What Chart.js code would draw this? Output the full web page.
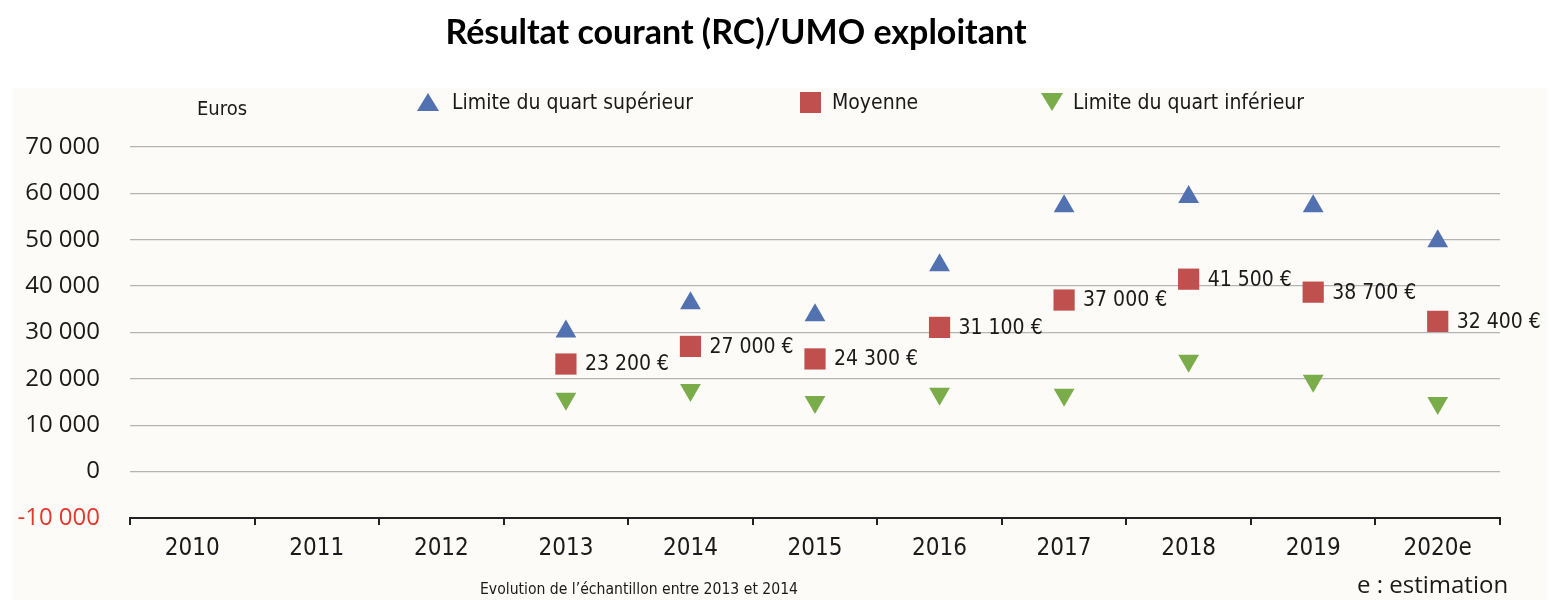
<!DOCTYPE html>
<html>
<head>
<meta charset="utf-8">
<script src="https://cdn.jsdelivr.net/npm/chart.js@4"></script>
<style>
  body { margin: 0; background: #fff; }
  #wrap { position: relative; width: 1550px; height: 600px; overflow: hidden; }
  #panel { position: absolute; left: 13px; top: 88px; width: 1534px; height: 520px; background: #fcfbf8; }
  #mycanvas { position: absolute; left: 0; top: 0; }
  .txt { position: absolute; white-space: nowrap; color: #1a1a1a; }
  #title { left: 0; width: 1472px; top: 10px; text-align: center; font: bold 34px Lato, "Open Sans", sans-serif; color: #000; }
  .narrow { font-family: "Liberation Sans Narrow", "DejaVu Sans Condensed", sans-serif; }
  .leg { top: 88px; font-size: 21px; line-height: 28px; }
  .up { position: absolute; width: 0; height: 0; border-left: 11px solid transparent; border-right: 11px solid transparent; border-bottom: 18px solid #5271b0; }
  .down { position: absolute; width: 0; height: 0; border-left: 11px solid transparent; border-right: 11px solid transparent; border-top: 18px solid #7aad4a; }
  .sq { position: absolute; width: 21px; height: 21px; background: #c0504d; }
</style>
</head>
<body>
<div id="wrap">
  <div id="panel"></div>
  <canvas id="mycanvas" width="1550" height="600"></canvas>
  <div id="title" class="txt">Résultat courant (RC)/UMO exploitant</div>
  <div class="txt narrow" style="left:197px; top:96px; font-size:20px;">Euros</div>
  <div class="up" style="left:417px; top:93px;"></div>
  <div class="txt narrow leg" style="left:452px;">Limite du quart supérieur</div>
  <div class="sq" style="left:800px; top:92px;"></div>
  <div class="txt narrow leg" style="left:832px;">Moyenne</div>
  <div class="down" style="left:1041px; top:93px;"></div>
  <div class="txt narrow leg" style="left:1073px;">Limite du quart inférieur</div>
  <div class="txt narrow" style="left:480px; top:580px; font-size:15.6px;">Evolution de l’échantillon entre 2013 et 2014</div>
  <div class="txt" style="left:1357px; top:567px; font:24px 'Open Sans', sans-serif;">e : estimation</div>
</div>
<script>
// categories (years)
const YEARS = ["2010", "2011", "2012", "2013", "2014", "2015", "2016", "2017", "2018", "2019", "2020e"]
// values (euros), null = no sample
const UPPER_QUART = [null, null, null, 30200, 36300, 33700, 44500, 57200, 59200, 57200, 49700]
const MEAN = [null, null, null, 23200, 27000, 24300, 31100, 37000, 41500, 38700, 32400]
const LOWER_QUART = [null, null, null, 15700, 17600, 15000, 16800, 16600, 23900, 19600, 14800]
const Y_MIN = -10000
const Y_MAX = 70000
const Y_STEP = 10000

function fmt(v) {
  return String(Math.round(v)).replace(/\B(?=(\d{3})+(?!\d))/g, " ")
}

// writes "23 200 €" next to every mean square
const meanLabels = {
  id: 'meanLabels',
  afterDatasetsDraw(chart) {
    const ctx = chart.ctx
    const meta = chart.getDatasetMeta(1)
    ctx.save()
    ctx.font = '21px "Liberation Sans Narrow", "DejaVu Sans Condensed", sans-serif'
    ctx.fillStyle = '#1a1a1a'
    ctx.textAlign = 'left'
    ctx.textBaseline = 'middle'
    meta.data.forEach((pt, i) => {
      if (MEAN[i] == null) return
      ctx.fillText(fmt(MEAN[i]) + " €", pt.x + 19, pt.y + 1)
    })
    ctx.restore()
  }
}

const ctx = document.getElementById('mycanvas').getContext('2d')
window.chart = new Chart(ctx, {
  type: 'line',
  data: {
    labels: YEARS,
    datasets: [
      {
        label: 'Limite du quart supérieur',
        data: UPPER_QUART,
        showLine: false,
        pointStyle: 'triangle',
        pointRadius: 12,
        pointBackgroundColor: '#5271b0',
        pointBorderWidth: 0
      },
      {
        label: 'Moyenne',
        data: MEAN,
        showLine: false,
        pointStyle: 'rect',
        pointRadius: 15,
        pointBackgroundColor: '#c0504d',
        pointBorderWidth: 0
      },
      {
        label: 'Limite du quart inférieur',
        data: LOWER_QUART,
        showLine: false,
        pointStyle: 'triangle',
        pointRotation: 180,
        pointRadius: 12,
        pointBackgroundColor: '#7aad4a',
        pointBorderWidth: 0
      }
    ]
  },
  options: {
    responsive: false,
    animation: false,
    layout: { padding: { left: 0, right: 50, top: 147, bottom: 0 } },
    plugins: {
      legend: { display: false },
      tooltip: { enabled: false }
    },
    scales: {
      x: {
        offset: true,
        afterFit: function(scale) { scale.height = 82 },
        grid: { offset: true, drawOnChartArea: false, drawTicks: true, tickLength: 7, color: '#222', lineWidth: 2 },
        border: { display: true, color: '#222', width: 2 },
        ticks: {
          padding: 9,
          color: '#1a1a1a',
          font: { family: '"Liberation Sans Narrow", "DejaVu Sans Condensed", sans-serif', size: 24 }
        }
      },
      y: {
        min: Y_MIN,
        max: Y_MAX,
        afterFit: function(scale) { scale.width = 130 },
        grid: { drawTicks: false, color: '#b4b4b4', lineWidth: 1.3 },
        border: { display: false },
        ticks: {
          stepSize: Y_STEP,
          padding: 30,
          font: { family: '"Open Sans", sans-serif', size: 24 },
          color: c => c.tick && c.tick.value < 0 ? '#e2382e' : '#1a1a1a',
          callback: v => fmt(v)
        }
      }
    }
  },
  plugins: [meanLabels]
})
</script>
</body>
</html>
